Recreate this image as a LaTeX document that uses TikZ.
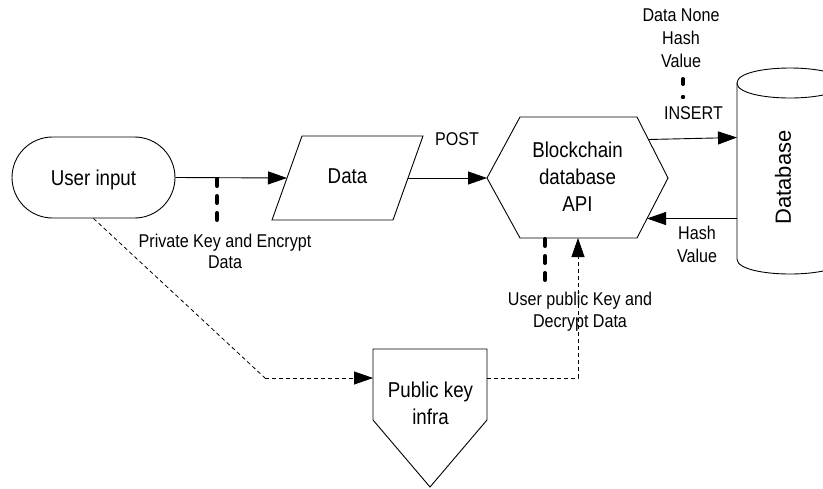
\documentclass[tikz,border=0pt]{standalone}
\usepackage{fontspec}
\setmainfont{Liberation Sans}[FakeStretch=0.87]
\newfontfamily\uprightsans{Liberation Sans}
\usetikzlibrary{arrows.meta,shapes.misc}

\begin{document}
\begin{tikzpicture}[x=1pt,y=-1pt,
  line width=0.9pt,
  flow/.style={-{Triangle[length=19pt,width=13pt]}},
  link/.style={dash pattern=on 4pt off 3pt, line width=0.8pt},
  tagline/.style={line width=4pt, line cap=round, dash pattern=on 7pt off 10pt},
  nodetext/.style={font=\fontsize{21.5}{27}\selectfont, align=center, inner sep=0pt},
  labeltext/.style={font=\fontsize{18.5}{22}\selectfont, align=center, inner sep=0pt},
]
% canvas
\useasboundingbox (0,0) rectangle (823,488);
\fill[white] (0,0) rectangle (823,488);

% ---- user input terminator
\node[rounded rectangle, draw, minimum width=163pt, minimum height=81pt,
      font=\fontsize{21.5}{27}\selectfont, text height=15.5pt, text depth=0pt, inner sep=0pt]
  (user) at (93.5,177.5) {User input};

% ---- data (parallelogram)
\coordinate (dataNW) at (302,136);
\coordinate (dataNE) at (423,136);
\coordinate (dataSE) at (393,220);
\coordinate (dataSW) at (272,220);
\coordinate (dataW) at (287,178);
\coordinate (dataE) at (408,178);
\draw (dataNW) -- (dataNE) -- (dataSE) -- (dataSW) -- cycle;
\node[nodetext] (data) at (347.5,176) {Data};

% ---- blockchain API (hexagon)
\coordinate (apiW) at (487,178);
\coordinate (apiNW) at (520,117);
\coordinate (apiNE) at (637,117);
\coordinate (apiE) at (668,178);
\coordinate (apiSE) at (637,238);
\coordinate (apiSW) at (520,238);
\draw (apiW) -- (apiNW) -- (apiNE) -- (apiE) -- (apiSE) -- (apiSW) -- cycle;
\node[nodetext] (api) at (577.5,177) {Blockchain\\database\\API};
\coordinate (apiOut) at (648.5,139.5);
\coordinate (apiIn) at (647,218.5);
\coordinate (apiS) at (578,238);

% ---- public key infrastructure (off-page connector)
\coordinate (pkiNW) at (373,349);
\coordinate (pkiNE) at (487,349);
\coordinate (pkiSE) at (487,420);
\coordinate (pkiTip) at (430,487);
\coordinate (pkiSW) at (373,420);
\draw (pkiNW) -- (pkiNE) -- (pkiSE) -- (pkiTip) -- (pkiSW) -- cycle;
\node[nodetext] (pki) at (430.5,403.7) {Public key\\infra};
\coordinate (pkiW) at (373,378);
\coordinate (pkiE) at (487,378);

% ---- database cylinder (runs off the right edge)
\begin{scope}
  \clip (0,0) rectangle (823,488);
  \draw (737,83) -- (737,259) .. controls (737,279) and (843,279) .. (843,259) -- (843,83);
  \draw (737,83) .. controls (737,63) and (843,63) .. (843,83)
                 .. controls (843,103) and (737,103) .. (737,83);
\end{scope}
\node[inner sep=0pt, rotate=90, font=\uprightsans\fontsize{22}{26}\selectfont]
  (db) at (783,177.5) {Database};
\coordinate (dbIn) at (737,137.5);
\coordinate (dbOut) at (737,218.5);

% ---- main flow
\draw[flow] (user.east) -- (dataW);
\draw[flow] (dataE) -- (apiW);
\draw[flow] (apiOut) -- (dbIn);
\draw[flow] (dbOut) -- (apiIn);

% ---- key exchange (dashed)
\coordinate (bend) at (265,378);
\draw[link] (user.south) -- (bend);
\draw[link, flow] (bend) -- (pkiW);
\draw[link, flow] (pkiE) -| (apiS);

% ---- label tags
\coordinate (tagA) at (217,179);
\coordinate (tagAend) at (217,220);
\draw[tagline] (tagA) -- (tagAend);
\coordinate (tagB) at (545,239);
\coordinate (tagBend) at (545,282);
\draw[tagline] (tagB) -- (tagBend);
\coordinate (tagC) at (683,79);
\coordinate (tagCend) at (683,84);
\draw[line width=4pt, line cap=round] (tagC) -- (tagCend);
\fill (683,97) circle[radius=2.2pt];

% ---- labels
\node[labeltext, font=\fontsize{18.5}{21}\selectfont] (lblPriv) at (225,251.8) {Private Key and Encrypt\\Data};
\node[labeltext] (lblPost) at (457,139) {POST};
\node[labeltext] (lblInsert) at (693.5,113) {INSERT};
\node[labeltext, font=\fontsize{18.5}{23.3}\selectfont] (lblNone) at (681,38.4) {Data None\\Hash\\Value};
\node[labeltext, font=\fontsize{18.5}{23}\selectfont] (lblHash) at (697,244) {Hash\\Value};
\node[labeltext] (lblPub) at (580,311.3) {User public Key and\\Decrypt Data};
\end{tikzpicture}
\end{document}
